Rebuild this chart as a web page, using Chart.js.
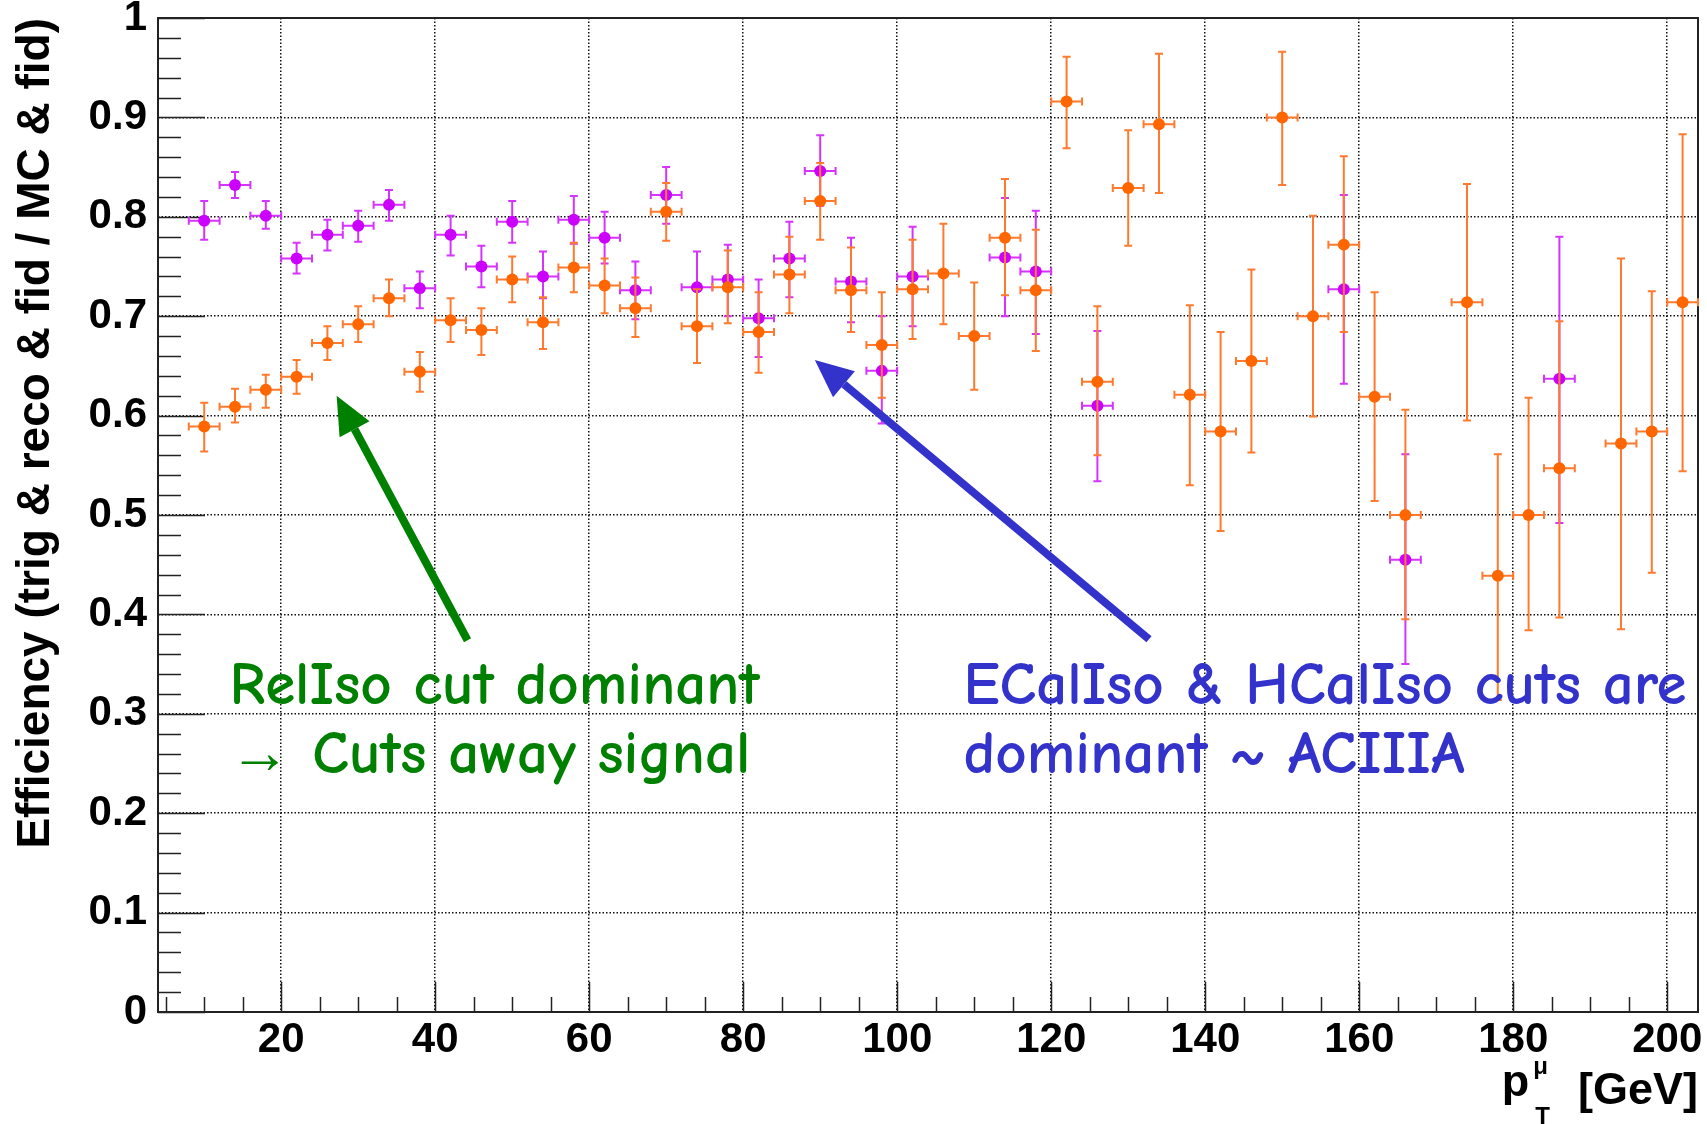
<!DOCTYPE html>
<html>
<head>
<meta charset="utf-8">
<title>Muon efficiency vs pT</title>
<script src="https://cdn.jsdelivr.net/npm/chart.js@4.4.0/dist/chart.umd.min.js"></script>
<style>
  html, body { margin: 0; padding: 0; background: #fff; }
  #wrap { width: 1707px; height: 1124px; position: relative; }
</style>
</head>
<body>
<div id="wrap"><canvas id="effCanvas"></canvas></div>
<script>
// orange: bin centres (GeV), efficiency, upper / lower error bounds
const orangePt = [10, 14, 18, 22, 26, 30, 34, 38, 42, 46, 50, 54, 58, 62, 66, 70, 74, 78, 82, 86,
  90, 94, 98, 102, 106, 110, 114, 118, 122, 126, 130, 134, 138, 142, 146, 150, 154, 158, 162, 166,
  174, 178, 182, 186, 194, 198, 202];
const orangeEff = [0.589, 0.609, 0.626, 0.639, 0.673, 0.692, 0.718, 0.644, 0.696, 0.686,
  0.737, 0.694, 0.749, 0.731, 0.708, 0.805, 0.690, 0.729, 0.684, 0.742,
  0.816, 0.726, 0.671, 0.727, 0.743, 0.680, 0.779, 0.726, 0.916, 0.634,
  0.829, 0.893, 0.621, 0.584, 0.655, 0.900, 0.700, 0.772, 0.619, 0.500,
  0.714, 0.439, 0.500, 0.547, 0.572, 0.584, 0.714];
const orangeHi = [0.613, 0.627, 0.641, 0.656, 0.690, 0.710, 0.737, 0.664, 0.718, 0.708,
  0.760, 0.719, 0.774, 0.758, 0.739, 0.834, 0.727, 0.766, 0.724, 0.780,
  0.854, 0.769, 0.724, 0.777, 0.793, 0.734, 0.838, 0.787, 0.961, 0.710,
  0.887, 0.964, 0.711, 0.684, 0.747, 0.966, 0.801, 0.861, 0.724, 0.606,
  0.833, 0.561, 0.618, 0.695, 0.758, 0.725, 0.883];
const orangeLo = [0.564, 0.593, 0.608, 0.622, 0.656, 0.674, 0.700, 0.624, 0.674, 0.661,
  0.714, 0.667, 0.724, 0.703, 0.679, 0.776, 0.653, 0.693, 0.643, 0.703,
  0.777, 0.684, 0.618, 0.677, 0.692, 0.626, 0.721, 0.665, 0.869, 0.560,
  0.771, 0.824, 0.530, 0.484, 0.563, 0.832, 0.599, 0.684, 0.514, 0.395,
  0.595, 0.314, 0.384, 0.397, 0.385, 0.442, 0.544];

// magenta: bins where it differs from the orange one
const magentaPt = [10, 14, 18, 22, 26, 30, 34, 38, 42, 46, 50, 54, 58, 62, 66, 70, 74, 78, 82, 86,
  90, 94, 98, 102, 114, 118, 126, 158, 166, 186];
const magentaEff = [0.796, 0.832, 0.801, 0.758, 0.782, 0.791, 0.812, 0.728, 0.782, 0.750,
  0.795, 0.740, 0.797, 0.779, 0.726, 0.822, 0.729, 0.737, 0.698, 0.758,
  0.846, 0.735, 0.645, 0.740, 0.759, 0.745, 0.610, 0.727, 0.455, 0.637];
const magentaHi = [0.816, 0.845, 0.816, 0.774, 0.797, 0.806, 0.827, 0.745, 0.801, 0.771,
  0.816, 0.765, 0.821, 0.805, 0.755, 0.850, 0.765, 0.772, 0.737, 0.795,
  0.882, 0.779, 0.700, 0.790, 0.819, 0.806, 0.685, 0.822, 0.561, 0.780];
const magentaLo = [0.777, 0.819, 0.788, 0.743, 0.766, 0.775, 0.796, 0.708, 0.761, 0.729,
  0.774, 0.718, 0.773, 0.753, 0.697, 0.793, 0.693, 0.700, 0.659, 0.719,
  0.811, 0.694, 0.592, 0.690, 0.700, 0.682, 0.534, 0.632, 0.350, 0.492];

const binHalfWidth = 2; // GeV

const xTickValues = [20, 40, 60, 80, 100, 120, 140, 160, 180, 200];
const yTickValues = [0, 0.1, 0.2, 0.3, 0.4, 0.5, 0.6, 0.7, 0.8, 0.9, 1];

const greenNote = ['RelIso cut dominant', '\u2192 Cuts away signal'];
const blueNote = ['ECalIso & HCalIso cuts are', 'dominant ~ ACIIIA'];

const ROOT_FONT = "'Liberation Sans', Arial, Helvetica, sans-serif";
const NOTE_FONT = "'Comic Sans MS', 'Comic Neue', 'Open Sans', sans-serif";

// text + arrow overlays, placed in data units
const notes = [
  { lines: greenNote, color: '#008000', x: 13.3, y: [0.31, 0.24], arrow: [[44.2, 0.374], [27.2, 0.620]] },
  { lines: blueNote, color: '#3333cc', x: 108.6, y: [0.31, 0.24], arrow: [[132.7, 0.375], [89.3, 0.656]] }
];

function toPoints(xs, ys) {
  return xs.map((x, i) => ({ x, y: ys[i] }));
}

// inward ticks and the closed frame
const frameTicks = {
  id: 'frameTicks',
  beforeDatasetsDraw(chart) {
    const { ctx, chartArea: a, scales: { x, y } } = chart;
    ctx.save();
    ctx.strokeStyle = '#222';
    ctx.lineWidth = 1.5;
    ctx.beginPath();
    for (let i = 0; i <= 50; i++) {
      const py = Math.round(y.getPixelForValue(i * 0.02)) + 0.5;
      const len = i % 5 === 0 ? 47 : 23;
      ctx.moveTo(a.left, py);
      ctx.lineTo(a.left + len, py);
    }
    for (let v = 5; v <= 200; v += 5) {
      const px = Math.round(x.getPixelForValue(v)) + 0.5;
      const len = v % 20 === 0 ? 30 : 15;
      ctx.moveTo(px, a.bottom);
      ctx.lineTo(px, a.bottom - len);
    }
    ctx.stroke();
    ctx.lineWidth = 2;
    ctx.strokeRect(a.left, a.top, a.right - a.left, a.bottom - a.top);
    ctx.restore();
  }
};

// x (bin width) and y error bars under each dataset's markers
const errorBars = {
  id: 'errorBars',
  beforeDatasetDraw(chart, args) {
    const ds = chart.data.datasets[args.index];
    if (!ds.yHi) return;
    const { ctx, scales: { x, y } } = chart;
    const cap = 4;
    ctx.save();
    ctx.strokeStyle = ds.barColor;
    ctx.lineWidth = 2;
    ctx.beginPath();
    ds.data.forEach((p, i) => {
      const px = x.getPixelForValue(p.x);
      const py = y.getPixelForValue(p.y);
      const xl = x.getPixelForValue(p.x - binHalfWidth);
      const xr = x.getPixelForValue(p.x + binHalfWidth);
      const yt = y.getPixelForValue(ds.yHi[i]);
      const yb = y.getPixelForValue(ds.yLo[i]);
      ctx.moveTo(xl, py); ctx.lineTo(xr, py);
      ctx.moveTo(xl, py - cap); ctx.lineTo(xl, py + cap);
      ctx.moveTo(xr, py - cap); ctx.lineTo(xr, py + cap);
      ctx.moveTo(px, yt); ctx.lineTo(px, yb);
      ctx.moveTo(px - cap, yt); ctx.lineTo(px + cap, yt);
      ctx.moveTo(px - cap, yb); ctx.lineTo(px + cap, yb);
    });
    ctx.stroke();
    ctx.restore();
  }
};

function drawArrow(ctx, x0, y0, x1, y1, color) {
  const ang = Math.atan2(y1 - y0, x1 - x0);
  const headLen = 38, headHalf = 17;
  const bx = x1 - headLen * Math.cos(ang);
  const by = y1 - headLen * Math.sin(ang);
  ctx.strokeStyle = color;
  ctx.fillStyle = color;
  ctx.lineWidth = 8;
  ctx.beginPath();
  ctx.moveTo(x0, y0);
  ctx.lineTo(bx, by);
  ctx.stroke();
  ctx.beginPath();
  ctx.moveTo(x1, y1);
  ctx.lineTo(bx + headHalf * Math.sin(ang), by - headHalf * Math.cos(ang));
  ctx.lineTo(bx - headHalf * Math.sin(ang), by + headHalf * Math.cos(ang));
  ctx.closePath();
  ctx.fill();
}

const noteOverlay = {
  id: 'noteOverlay',
  afterDatasetsDraw(chart) {
    const { ctx, scales: { x, y } } = chart;
    ctx.save();
    notes.forEach(n => {
      const [tail, tip] = n.arrow;
      drawArrow(ctx, x.getPixelForValue(tail[0]), y.getPixelForValue(tail[1]),
        x.getPixelForValue(tip[0]), y.getPixelForValue(tip[1]), n.color);
      ctx.fillStyle = n.color;
      ctx.font = `600 61px ${NOTE_FONT}`;
      ctx.textAlign = 'left';
      ctx.textBaseline = 'alphabetic';
      n.lines.forEach((line, i) => {
        ctx.fillText(line, x.getPixelForValue(n.x), y.getPixelForValue(n.y[i]));
      });
    });
    ctx.restore();
  }
};

// x title: p_T^mu [GeV], right-aligned under the axis
const xTitle = {
  id: 'xTitle',
  afterDraw(chart) {
    const { ctx, chartArea: a } = chart;
    ctx.save();
    ctx.fillStyle = '#000';
    ctx.textBaseline = 'alphabetic';
    ctx.textAlign = 'right';
    ctx.font = `bold 45px ${ROOT_FONT}`;
    ctx.fillText('[GeV]', a.right, a.bottom + 92);
    const gevLeft = a.right - ctx.measureText('[GeV]').width;
    ctx.font = `bold 24px ${ROOT_FONT}`;
    const subRight = gevLeft - 30;
    ctx.textAlign = 'left';
    const subLeft = subRight - ctx.measureText('\u03bc').width;
    ctx.fillText('\u03bc', subLeft, a.bottom + 62);
    ctx.fillText('T', subLeft + 2, a.bottom + 112);
    ctx.font = `bold 45px ${ROOT_FONT}`;
    ctx.textAlign = 'right';
    ctx.fillText('p', subLeft - 4, a.bottom + 84);
    ctx.restore();
  }
};

const tickFont = { family: ROOT_FONT, size: 42, weight: 'bold' };

new Chart(document.getElementById('effCanvas'), {
  type: 'scatter',
  data: {
    datasets: [
      {
        label: 'orange',
        data: toPoints(orangePt, orangeEff),
        yHi: orangeHi,
        yLo: orangeLo,
        barColor: '#ff7a2e',
        backgroundColor: '#ff6600',
        borderWidth: 0,
        pointRadius: 6,
        order: 1
      },
      {
        label: 'magenta',
        data: toPoints(magentaPt, magentaEff),
        yHi: magentaHi,
        yLo: magentaLo,
        barColor: '#d633ff',
        backgroundColor: '#cc00ff',
        borderWidth: 0,
        pointRadius: 6,
        order: 2
      }
    ]
  },
  options: {
    responsive: true,
    maintainAspectRatio: false,
    animation: false,
    layout: { padding: { top: 18, right: 9, left: 0, bottom: 0 } },
    plugins: { legend: { display: false }, tooltip: { enabled: false } },
    scales: {
      x: {
        type: 'linear',
        min: 4,
        max: 204,
        afterBuildTicks: s => { s.ticks = xTickValues.map(value => ({ value })); },
        afterFit: s => { s.height = 112; s.paddingLeft = 0; s.paddingRight = 0; },
        ticks: { font: tickFont, color: '#000', padding: 3, autoSkip: false, maxRotation: 0 },
        grid: { color: '#111', lineWidth: 1.5, drawTicks: false },
        border: { display: false, dash: [1.5, 2] }
      },
      y: {
        type: 'linear',
        min: 0,
        max: 1,
        afterBuildTicks: s => { s.ticks = yTickValues.map(value => ({ value })); },
        afterFit: s => { s.width = 158; s.paddingTop = 0; s.paddingBottom = 0; },
        ticks: { font: tickFont, color: '#000', padding: 11, autoSkip: false, callback: v => String(v) },
        grid: { color: '#111', lineWidth: 1.5, drawTicks: false },
        border: { display: false, dash: [1.5, 2] },
        title: {
          display: true,
          text: 'Efficiency (trig & reco & fid / MC & fid)',
          align: 'end',
          color: '#000',
          font: { family: ROOT_FONT, size: 46, weight: 'bold' },
          padding: { top: 9, bottom: 0 }
        }
      }
    }
  },
  plugins: [frameTicks, errorBars, noteOverlay, xTitle]
});
</script>
</body>
</html>
